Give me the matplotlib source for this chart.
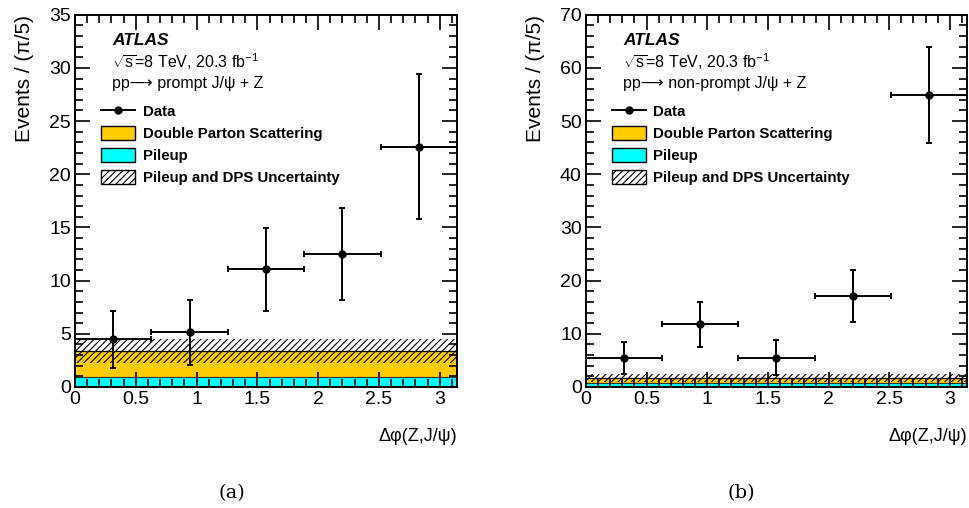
import numpy as np
import matplotlib
matplotlib.use("Agg")
import matplotlib.pyplot as plt
from matplotlib.patches import Patch
from matplotlib.lines import Line2D
from matplotlib.ticker import MultipleLocator, FormatStrFormatter

# ---------------- data ----------------
bin_edges = np.linspace(0, np.pi, 6)

# panel (a): prompt J/psi + Z
a_data = [4.49, 5.14, 11.07, 12.48, 22.58]
a_err_up = [2.63, 3.07, 3.89, 4.36, 6.86]
a_err_dn = [2.67, 3.04, 3.89, 4.33, 6.81]
a_pileup = [0.97, 0.97, 0.97, 0.97, 0.97]
a_dps = [2.39, 2.39, 2.39, 2.39, 2.39]
a_unc = [1.15, 1.15, 1.15, 1.15, 1.15]

# panel (b): non-prompt J/psi + Z
b_data = [5.46, 11.79, 5.46, 17.13, 54.89]
b_err_up = [3.01, 4.14, 3.32, 4.95, 9.10]
b_err_dn = [3.08, 4.26, 3.26, 4.90, 9.09]
b_pileup = [0.75, 0.75, 0.75, 0.75, 0.75]
b_dps = [0.90, 0.90, 0.90, 0.90, 0.90]
b_unc = [0.75, 0.75, 0.75, 0.75, 0.75]

process_labels = ["pp\u27f6 prompt J/\u03c8 + Z",
                  "pp\u27f6 non-prompt J/\u03c8 + Z"]
legend_labels = ["Data", "Double Parton Scattering", "Pileup", "Pileup and DPS Uncertainty"]
panel_tags = ["(a)", "(b)"]

# ---------------- style ----------------
SANS = ["Liberation Sans", "DejaVu Sans"]
plt.rcParams["font.family"] = SANS
plt.rcParams["mathtext.fontset"] = "custom"
plt.rcParams["mathtext.rm"] = "Liberation Sans"
plt.rcParams["mathtext.it"] = "Liberation Sans:italic"
plt.rcParams["mathtext.bf"] = "Liberation Sans:bold"
plt.rcParams["mathtext.fallback"] = "cm"
plt.rcParams["hatch.linewidth"] = 0.8

DPS_COLOR = "#ffcc00"
PU_COLOR = "#00ffff"

fig = plt.figure(figsize=(9.69, 5.08), dpi=100)
axes_pos = [[0.0774, 0.2382, 0.3942, 0.7329], [0.6047, 0.2382, 0.3932, 0.7329]]
tag_x = [232 / 969, 741 / 969]

panels = [
    (a_data, a_err_up, a_err_dn, a_pileup, a_dps, a_unc, 35, 5, 1),
    (b_data, b_err_up, b_err_dn, b_pileup, b_dps, b_unc, 70, 10, 2),
]

centers = 0.5 * (bin_edges[:-1] + bin_edges[1:])
halfw = 0.5 * np.diff(bin_edges)

for i, (data, eu, ed, pu, dps, unc, ymax, major, minor) in enumerate(panels):
    ax = fig.add_axes(axes_pos[i])
    pu = np.asarray(pu)
    total = pu + np.asarray(dps)
    unc = np.asarray(unc)

    ax.stairs(pu, bin_edges, baseline=0, fill=True, color=PU_COLOR, zorder=1)
    ax.stairs(total, bin_edges, baseline=pu, fill=True, color=DPS_COLOR, zorder=1)
    ax.stairs(pu, bin_edges, baseline=None, color="#333333", lw=0.8, zorder=1.1)
    ax.stairs(total, bin_edges, baseline=None, color="black", lw=0.9, zorder=1.1)
    ax.stairs(total + unc, bin_edges, baseline=total - unc, fill=True,
              facecolor="none", edgecolor="black", hatch="/////", lw=0, zorder=1.2)

    ax.errorbar(centers, data, xerr=halfw, yerr=[ed, eu], fmt="o", color="black",
                ms=5, elinewidth=1.4, capsize=2.5, capthick=1.4, zorder=3)

    ax.set_xlim(0, np.pi)
    ax.set_ylim(0, ymax)
    ax.set_axisbelow(False)
    ax.xaxis.set_major_locator(MultipleLocator(0.5))
    ax.xaxis.set_minor_locator(MultipleLocator(0.1))
    ax.yaxis.set_major_locator(MultipleLocator(major))
    ax.yaxis.set_minor_locator(MultipleLocator(minor))
    ax.xaxis.set_major_formatter(FormatStrFormatter("%g"))
    ax.yaxis.set_major_formatter(FormatStrFormatter("%g"))
    ax.tick_params(which="both", direction="in", top=True, right=True, width=1.2,
                   labelsize=14, pad=3)
    ax.tick_params(which="major", length=11)
    ax.tick_params(which="minor", length=5.5)
    for s in ax.spines.values():
        s.set_linewidth(1.4)

    ax.set_xlabel("\u0394\u03c6(Z,J/\u03c8)", loc="right", fontsize=13, labelpad=14)
    ax.set_ylabel("Events / (\u03c0/5)", loc="top", fontsize=15, labelpad=11)

    ax.text(0.097, 0.93, "ATLAS", transform=ax.transAxes, fontsize=12.5,
            fontweight="bold", fontstyle="italic", va="center", ha="left")
    ax.text(0.097, 0.873, r"$\sqrt{\mathrm{s}}$=8 TeV, 20.3 fb$^{\mathrm{-1}}$",
            transform=ax.transAxes, fontsize=11.5, va="center", ha="left")
    ax.text(0.097, 0.816, process_labels[i], transform=ax.transAxes, fontsize=11.5,
            va="center", ha="left", family=SANS)

    handles = [
        Line2D([0], [0], color="black", marker="o", ms=5, lw=1.4),
        Patch(facecolor=DPS_COLOR, edgecolor="black", lw=1.0),
        Patch(facecolor=PU_COLOR, edgecolor="black", lw=1.0),
        Patch(facecolor="white", edgecolor="black", hatch="/////", lw=1.0),
    ]
    ax.legend(handles, legend_labels, loc="upper left",
              bbox_to_anchor=(0.068, 0.761), frameon=False, borderpad=0,
              borderaxespad=0, handlelength=2.27, handleheight=1.11,
              labelspacing=0.45, handletextpad=0.5,
              prop={"family": SANS, "weight": "bold", "size": 10.8})

    fig.text(tag_x[i], 1 - 493 / 508, panel_tags[i], ha="center", va="center",
             fontsize=14, family=["DejaVu Serif"])

fig.savefig("out.png", dpi=100)
